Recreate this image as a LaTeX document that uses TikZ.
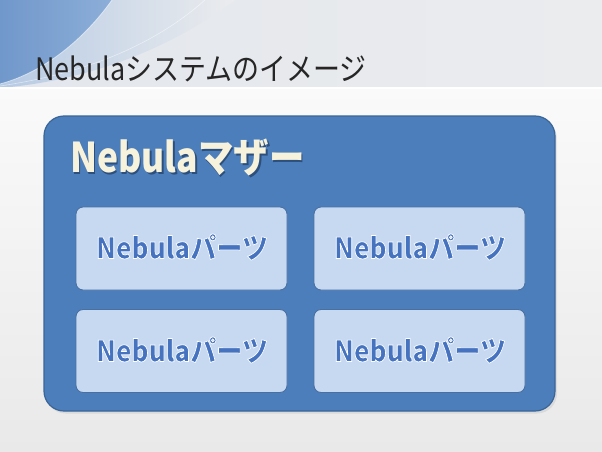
\documentclass[tikz,border=0pt]{standalone}
\usepackage{fontspec}
\setmainfont{Noto Sans CJK JP}
\newfontfamily\partsfam{Noto Sans CJK JP}[BoldFeatures={FakeBold=2.5}]
\definecolor{bandL}{HTML}{B6CAE4}
\definecolor{bandR}{HTML}{EBECEE}
\definecolor{darkL}{HTML}{7198CB}
\definecolor{darkR}{HTML}{8CAED8}
\definecolor{bgTop}{HTML}{FAFAFA}
\definecolor{bgBot}{HTML}{E9E9E9}
\definecolor{motherFill}{HTML}{4C7EBB}
\definecolor{motherLine}{HTML}{3A6597}
\definecolor{partFill}{HTML}{C6D9F1}
\definecolor{partLine}{HTML}{4A70A2}
\definecolor{partText}{HTML}{4673C0}
\definecolor{creamText}{HTML}{F6F2DC}
\definecolor{shadowBlue}{HTML}{2D4F7C}
\definecolor{titleText}{HTML}{262626}
\newcommand\haloat[3]{\rlap{\kern#1\raisebox{#2}{#3}}}
\newcommand\shadowtext[3]{{\color{#1}\haloat{1.5pt}{-2pt}{#3}}{\color{#2}#3}}
\tikzset{
  motherbox/.style={draw=motherLine, line width=1.2pt, fill=motherFill,
    rounded corners=20pt, minimum width=511pt, minimum height=295pt, inner sep=0pt},
  partbox/.style={draw=partLine, line width=0.9pt, fill=partFill,
    rounded corners=7pt, minimum width=211pt, minimum height=83pt, inner sep=0pt},
  partlabel/.style={font=\fontsize{29}{29}\partsfam\bfseries, text=partText, inner sep=0pt},
}
\newcommand\partsword{\pgfsetstrokecolor{white}\scalebox{0.9}[1]{Nebulaパーツ}}
\begin{document}
\begin{tikzpicture}[x=1pt,y=-1pt]
\useasboundingbox (0,0) rectangle (602,452);
% background
\shade[top color=bgTop, bottom color=bgBot] (0,88) rectangle (602,452);
\shade[left color=bandR!85!bandL, right color=bandR] (0,0) rectangle (602,88);
\shade[left color=bandL, right color=bandR] (0,0) -- (235,0) .. controls (175,45) and (95,80) .. (0,88) -- cycle;
\shade[left color=darkL, right color=darkR] (0,0) -- (112,0) .. controls (85,38) and (45,72) .. (0,84) -- cycle;
\draw[white, opacity=0.6, line width=0.8pt] (112,0) .. controls (85,38) and (45,72) .. (0,84);
\draw[white, opacity=0.5, line width=0.6pt] (205,0) .. controls (160,40) and (95,72) .. (0,86);
\draw[white, line width=1.2pt] (0,88) -- (602,88);
% title
\node[anchor=base west, inner sep=0pt, text=titleText, font=\fontsize{31}{31}\selectfont]
  (title) at (35,80) {\scalebox{0.87}[1]{Nebulaシステムのイメージ}};
% mother box
\fill[black, opacity=0.07, rounded corners=20pt] (45.5,118.5) rectangle (557,413.5);
\node[motherbox] (mother) at (299.5,263.5) {};
\node[anchor=base west, inner sep=0pt, font=\fontsize{41}{41}\selectfont\bfseries]
  (mlabel) at (70,172) {\shadowtext{shadowBlue}{creamText}{\scalebox{0.865}[1]{Nebulaマザー}}};
% parts
\node[partbox] (p1) at (181.5,248.5) {};
\node[partbox] (p2) at (419.5,248.5) {};
\node[partbox] (p3) at (181.5,351) {};
\node[partbox] (p4) at (419.5,351) {};
\node[partlabel] (l1) at (182,247) {\partsword};
\node[partlabel] (l2) at (420,247) {\partsword};
\node[partlabel] (l3) at (182,350) {\partsword};
\node[partlabel] (l4) at (420,350) {\partsword};
\end{tikzpicture}
\end{document}
